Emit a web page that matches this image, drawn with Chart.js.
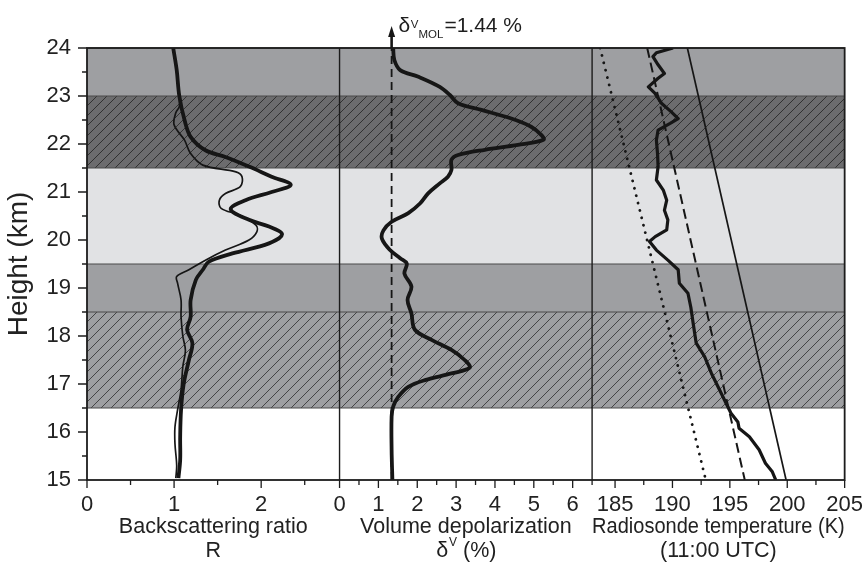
<!DOCTYPE html>
<html>
<head>
<meta charset="utf-8">
<title>Lidar and radiosonde profiles</title>
<script src="https://cdn.jsdelivr.net/npm/chart.js@4.4.1/dist/chart.umd.min.js"></script>
<style>
  body { margin: 0; background: #fff; }
  canvas { display: block; }
</style>
</head>
<body>
<canvas id="profileChart" width="867" height="567"></canvas>
<script>
// axis ranges and ticks
const heightRange = [15, 24];
const ratioRange = [0, 2.9];
const depolRange = [0, 6.5];
const tempRange = [183, 205];
const heightTicks = [15, 15.5, 16, 16.5, 17, 17.5, 18, 18.5, 19, 19.5, 20, 20.5, 21, 21.5, 22, 22.5, 23, 23.5, 24];
const ratioTicks = [0, 0.5, 1, 1.5, 2, 2.5];
const depolTicks = [0, 0.5, 1, 1.5, 2, 2.5, 3, 3.5, 4, 4.5, 5, 5.5, 6, 6.5];
const tempTicks = [185, 187.5, 190, 192.5, 195, 197.5, 200, 202.5, 205];

// layer bands (km)
const bandTop = [24, 23, 21.5, 19.5, 18.5];
const bandBottom = [23, 21.5, 19.5, 18.5, 16.5];

// backscattering ratio, thick profile
const ratioThickHeight = [24, 23.54, 23.0, 22.5, 22.15, 21.87, 21.73, 21.53, 21.32, 21.15, 21.0, 20.83, 20.64, 20.42, 20.28, 20.12, 19.93, 19.72, 19.55, 19.38, 19.17, 18.75, 18.4, 18.13, 17.85, 17.5, 17.0, 16.46, 15.9, 15.42, 15.04];
const ratioThick = [0.99, 1.03, 1.06, 1.12, 1.19, 1.36, 1.59, 1.86, 2.12, 2.34, 2.12, 1.82, 1.65, 1.86, 2.09, 2.24, 2.09, 1.67, 1.40, 1.33, 1.25, 1.19, 1.19, 1.15, 1.21, 1.17, 1.11, 1.08, 1.07, 1.07, 1.05];

// backscattering ratio, thin profile
const ratioThinHeight = [24, 23.54, 23.0, 22.78, 22.65, 22.4, 22.08, 21.8, 21.56, 21.42, 21.32, 21.11, 20.97, 20.83, 20.66, 20.52, 20.31, 20.17, 20.0, 19.79, 19.58, 19.38, 19.24, 19.1, 18.75, 18.4, 18.0, 17.7, 17.36, 16.88, 16.46, 16.1, 15.76, 15.3, 15.04];
const ratioThin = [0.99, 1.03, 1.06, 1.06, 1.02, 1.0, 1.12, 1.19, 1.33, 1.71, 1.78, 1.76, 1.59, 1.52, 1.54, 1.75, 1.94, 1.95, 1.86, 1.59, 1.36, 1.17, 1.03, 1.04, 1.08, 1.08, 1.10, 1.13, 1.10, 1.08, 1.04, 1.01, 1.01, 1.03, 1.02];

// volume depolarization (%)
const depolHeight = [24, 23.75, 23.54, 23.4, 23.19, 23.02, 22.85, 22.71, 22.53, 22.36, 22.19, 22.09, 21.98, 21.88, 21.77, 21.67, 21.46, 21.32, 21.18, 20.97, 20.76, 20.56, 20.38, 20.2, 20.03, 19.79, 19.62, 19.51, 19.3, 19.03, 18.75, 18.47, 18.13, 17.92, 17.71, 17.5, 17.34, 17.22, 17.08, 16.94, 16.73, 16.53, 16.32, 15.63, 15.0];
const depol = [1.38, 1.41, 1.56, 2.03, 2.58, 2.84, 3.05, 3.65, 4.42, 4.93, 5.19, 5.25, 4.59, 3.74, 3.05, 2.88, 2.88, 2.79, 2.58, 2.28, 2.07, 1.77, 1.34, 1.13, 1.09, 1.30, 1.56, 1.73, 1.67, 1.85, 1.75, 1.85, 1.94, 2.37, 2.88, 3.22, 3.35, 2.88, 2.20, 1.77, 1.51, 1.38, 1.34, 1.34, 1.36];
const molDepol = 1.34;

// radiosonde temperature (K)
const sondeHeight = [24, 23.9, 23.82, 23.65, 23.47, 23.37, 23.19, 23.06, 22.85, 22.67, 22.53, 22.43, 22.29, 22.08, 21.8, 21.53, 21.25, 21.04, 20.83, 20.62, 20.42, 20.21, 20.07, 19.97, 19.79, 19.58, 19.38, 19.1, 18.89, 18.6, 18.27, 17.85, 17.57, 17.22, 16.88, 16.6, 16.39, 16.21, 16.08, 15.9, 15.63, 15.35, 15.17, 15.0];
const sondeTemp = [190.05, 188.6, 188.3, 188.75, 189.3, 188.75, 187.9, 188.46, 189.04, 189.9, 190.5, 189.8, 188.75, 188.6, 188.7, 188.75, 188.6, 189.2, 189.5, 189.3, 189.6, 189.5, 188.5, 188.0, 188.6, 189.6, 190.5, 190.6, 191.35, 191.6, 191.8, 192.07, 192.8, 193.4, 194.1, 194.67, 195.1, 195.7, 195.8, 196.7, 197.55, 198.1, 198.7, 199.0];

// threshold temperatures at 24 km and 15 km
const threshHeight = [24, 15];
const tNat = [191.3, 199.9];
const tSts = [187.8, 196.3];
const tIce = [183.7, 192.9];

const ink = '#161616';
const fontFamily = "'Liberation Sans', Arial, sans-serif";
Chart.defaults.font.family = fontFamily;
Chart.defaults.color = '#222';

const bandStyles = [
    { fill: '#9e9fa2', hatch: null },
    { fill: '#6c6c6e', hatch: '#2a2a2a' },
    { fill: '#e1e2e4', hatch: null },
    { fill: '#9e9fa2', hatch: null },
    { fill: '#9e9fa2', hatch: '#3a3a3a' }
];

const toPoints = (xs, hs) => xs.map((v, i) => ({ x: v, y: hs[i] }));

const bandsPlugin = {
    id: 'bands',
    beforeDatasetsDraw(chart) {
        const { ctx, chartArea: a, scales: { y } } = chart;
        ctx.save();
        bandTop.forEach((top, i) => {
            const y0 = y.getPixelForValue(top);
            const y1 = y.getPixelForValue(bandBottom[i]);
            const h = y1 - y0;
            ctx.fillStyle = bandStyles[i].fill;
            ctx.fillRect(a.left, y0, a.width, h);
            if (bandStyles[i].hatch) {
                ctx.save();
                ctx.beginPath();
                ctx.rect(a.left, y0, a.width, h);
                ctx.clip();
                ctx.strokeStyle = bandStyles[i].hatch;
                ctx.lineWidth = 0.9;
                ctx.beginPath();
                for (let x0 = a.left - h; x0 < a.right; x0 += 10) {
                    ctx.moveTo(x0, y1);
                    ctx.lineTo(x0 + h, y0);
                }
                ctx.stroke();
                ctx.restore();
            }
        });
        ctx.strokeStyle = '#4a4a4a';
        ctx.lineWidth = 1.2;
        ctx.beginPath();
        bandTop.concat(bandBottom).forEach(v => {
            const py = y.getPixelForValue(v);
            ctx.moveTo(a.left, py);
            ctx.lineTo(a.right, py);
        });
        ctx.stroke();
        ctx.restore();
    }
};

const framePlugin = {
    id: 'frame',
    afterDraw(chart) {
        const { ctx, chartArea: a, scales } = chart;
        ctx.save();
        ctx.strokeStyle = '#1c1c1c';

        // tick marks, long on labelled ticks
        ctx.lineWidth = 1.3;
        ctx.beginPath();
        scales.y.ticks.forEach(t => {
            const py = scales.y.getPixelForValue(t.value);
            const len = t.label !== '' ? 9 : 5;
            ctx.moveTo(a.left - len, py);
            ctx.lineTo(a.left, py);
        });
        ['x1', 'x2', 'x3'].forEach(id => {
            const s = scales[id];
            s.ticks.forEach(t => {
                const px = s.getPixelForValue(t.value);
                const len = t.label !== '' ? 8 : 5;
                ctx.moveTo(px, a.bottom);
                ctx.lineTo(px, a.bottom + len);
            });
        });
        ctx.stroke();

        // panel dividers and frame
        ctx.lineWidth = 1.4;
        ctx.beginPath();
        [scales.x2.left, scales.x3.left].forEach(px => {
            ctx.moveTo(px, a.top);
            ctx.lineTo(px, a.bottom);
        });
        ctx.stroke();
        ctx.lineWidth = 1.8;
        ctx.strokeRect(a.left, a.top, a.width, a.height);

        // arrow marking the molecular depolarization line
        const ax = scales.x2.getPixelForValue(molDepol);
        ctx.fillStyle = ink;
        ctx.strokeStyle = ink;
        ctx.lineWidth = 2.6;
        ctx.beginPath();
        ctx.moveTo(ax, a.top);
        ctx.lineTo(ax, a.top - 14);
        ctx.stroke();
        ctx.beginPath();
        ctx.moveTo(ax, a.top - 22);
        ctx.lineTo(ax - 3.5, a.top - 11);
        ctx.lineTo(ax + 3.5, a.top - 11);
        ctx.closePath();
        ctx.fill();

        // delta^V_MOL = 1.44 %
        ctx.fillStyle = '#1e1e1e';
        ctx.textBaseline = 'alphabetic';
        ctx.textAlign = 'left';
        let tx = ax + 7;
        ctx.font = '21px ' + fontFamily;
        ctx.fillText('δ', tx, a.top - 16);
        tx += ctx.measureText('δ').width + 0.5;
        ctx.font = '11.5px ' + fontFamily;
        ctx.fillText('V', tx, a.top - 20);
        tx += ctx.measureText('V').width;
        ctx.fillText('MOL', tx, a.top - 10);
        tx += ctx.measureText('MOL').width + 1;
        ctx.font = '21px ' + fontFamily;
        ctx.fillText('=1.44 %', tx, a.top - 16);

        // second title line of the depolarization panel
        const s2 = scales.x2;
        const midY = s2.bottom - 4 - 12;
        ctx.textBaseline = 'middle';
        ctx.font = '21.5px ' + fontFamily;
        const wD = ctx.measureText('δ').width;
        const wP = ctx.measureText(' (%)').width;
        ctx.font = '12px ' + fontFamily;
        const wV = ctx.measureText('V').width;
        let cx = (s2.left + s2.right) / 2 - (wD + wV + wP) / 2;
        ctx.font = '21.5px ' + fontFamily;
        ctx.fillText('δ', cx, midY);
        cx += wD + 1;
        ctx.font = '12px ' + fontFamily;
        ctx.fillText('V', cx, midY - 8);
        cx += wV;
        ctx.font = '21.5px ' + fontFamily;
        ctx.fillText(' (%)', cx, midY);
        ctx.restore();
    }
};

function xAxis(range, ticks, title, isMajor) {
    return {
        type: 'linear',
        axis: 'x',
        position: 'bottom',
        stack: 'panels',
        stackWeight: 1,
        min: range[0],
        max: range[1],
        afterBuildTicks: s => { s.ticks = ticks.map(v => ({ value: v })); },
        afterFit: s => { s.height = 87; },
        grid: { drawOnChartArea: false, tickLength: 8, tickColor: 'rgba(0,0,0,0)' },
        border: { display: false },
        ticks: {
            autoSkip: false, maxRotation: 0, minRotation: 0, padding: 4,
            font: { size: 22 },
            callback: v => isMajor(v) ? String(v) : ''
        },
        title: {
            display: true, text: title,
            font: { size: 21.5, lineHeight: 1.12 },
            padding: { top: 0, bottom: 4 }
        }
    };
}

const ctx = document.getElementById('profileChart').getContext('2d');

const profileChart = new Chart(ctx, {
    type: 'line',
    data: {
        datasets: [
            { label: 'R thick', data: toPoints(ratioThick, ratioThickHeight), xAxisID: 'x1', yAxisID: 'y', borderWidth: 3.8, tension: 0.35 },
            { label: 'R thin', data: toPoints(ratioThin, ratioThinHeight), xAxisID: 'x1', yAxisID: 'y', borderWidth: 1.7, tension: 0.35 },
            { label: 'Volume depolarization', data: toPoints(depol, depolHeight), xAxisID: 'x2', yAxisID: 'y', borderWidth: 3.8, tension: 0.35 },
            { label: 'Molecular depolarization', data: toPoints([molDepol, molDepol], heightRange), xAxisID: 'x2', yAxisID: 'y', borderWidth: 1.8, borderDash: [8, 5] },
            { label: 'Radiosonde', data: toPoints(sondeTemp, sondeHeight), xAxisID: 'x3', yAxisID: 'y', borderWidth: 3.2, tension: 0 },
            { label: 'T NAT', data: toPoints(tNat, threshHeight), xAxisID: 'x3', yAxisID: 'y', borderWidth: 1.7 },
            { label: 'T STS', data: toPoints(tSts, threshHeight), xAxisID: 'x3', yAxisID: 'y', borderWidth: 2, borderDash: [10, 5] },
            { label: 'T ice', data: toPoints(tIce, threshHeight), xAxisID: 'x3', yAxisID: 'y', borderWidth: 2.8, borderDash: [0.1, 7.5], borderCapStyle: 'round' }
        ]
    },
    options: {
        responsive: false,
        animation: false,
        layout: { padding: { top: 48, right: 18, left: 0, bottom: 0 } },
        elements: {
            point: { radius: 0, hoverRadius: 0 },
            line: { borderColor: ink, fill: false, borderJoinStyle: 'round' }
        },
        plugins: {
            legend: { display: false },
            tooltip: { enabled: false }
        },
        scales: {
            y: {
                type: 'linear',
                position: 'left',
                min: heightRange[0],
                max: heightRange[1],
                afterBuildTicks: s => { s.ticks = heightTicks.map(v => ({ value: v })); },
                afterFit: s => { s.width = 87; },
                grid: { drawOnChartArea: false, tickLength: 9, tickColor: 'rgba(0,0,0,0)' },
                border: { display: false },
                ticks: {
                    autoSkip: false, padding: 7,
                    font: { size: 22 },
                    callback: v => Number.isInteger(v) ? String(v) : ''
                },
                title: {
                    display: true, text: 'Height (km)',
                    font: { size: 28, lineHeight: 1.2 },
                    padding: { top: 2, bottom: 0 }
                }
            },
            x1: xAxis(ratioRange, ratioTicks, ['Backscattering ratio', 'R'], v => Number.isInteger(v)),
            x2: xAxis(depolRange, depolTicks, ['Volume depolarization', ''], v => Number.isInteger(v)),
            x3: xAxis(tempRange, tempTicks, ['Radiosonde temperature (K)', '(11:00 UTC)'], v => v % 5 === 0)
        }
    },
    plugins: [bandsPlugin, framePlugin]
});
</script>
</body>
</html>
